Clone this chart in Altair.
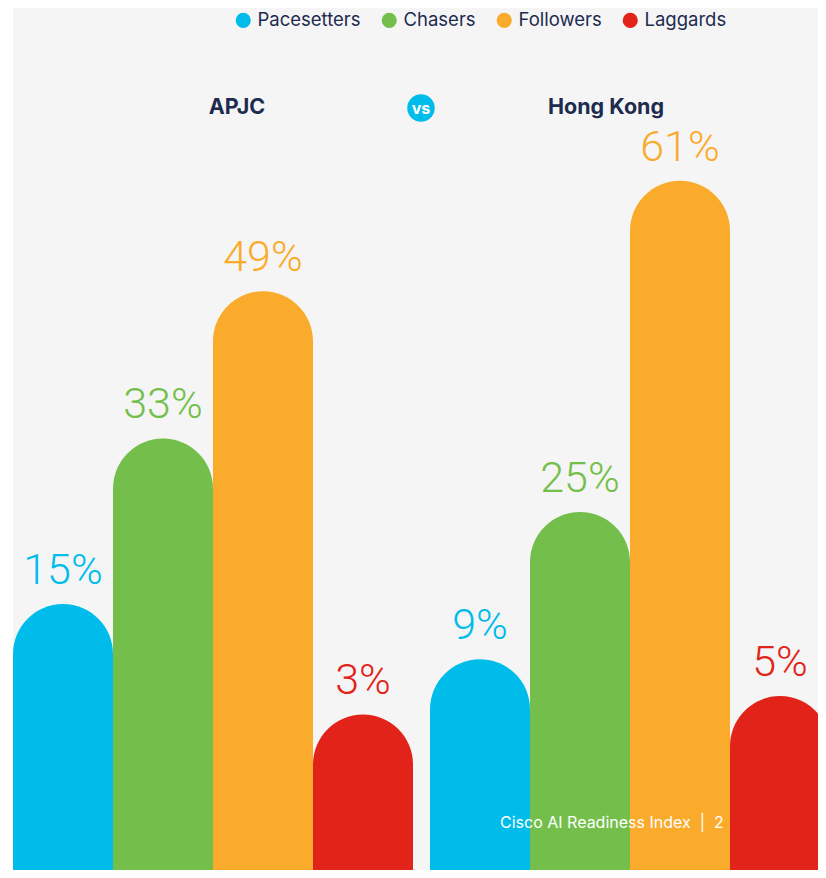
import altair as alt
import pandas as pd

categories = ["Pacesetters", "Chasers", "Followers", "Laggards"]
regions = ["APJC", "Hong Kong"]
apjc_values = [15, 33, 49, 3]
hong_kong_values = [9, 25, 61, 5]
palette = ["#00bceb", "#74bf4b", "#fbab2c", "#e2231a"]
footer_text = ["Cisco AI Readiness Index\u00a0\u00a0|\u00a0\u00a02"]
vs_text = ["vs"]

NAVY = "#1d2b4f"
W, H = 805, 862
GROUP_GAP = 0.17

rows = []
for g, (region, vals) in enumerate(zip(regions, [apjc_values, hong_kong_values])):
    for i, (cat, v) in enumerate(zip(categories, vals)):
        rows.append({"region": region, "category": cat, "value": v,
                     "slot": g * (len(categories) + GROUP_GAP) + i,
                     "label": f"{v}%"})
df = pd.DataFrame(rows)

x_scale = alt.Scale(domain=[0, 8.05], nice=False, zero=False)
y_scale = alt.Scale(domain=[-13.91, 79.78], nice=False, zero=False)
color_scale = alt.Scale(domain=categories, range=palette)

base = alt.Chart(df).transform_calculate(
    slot_end="datum.slot + 1", mid="datum.slot + 0.5"
)

bars = base.mark_bar(cornerRadiusTopLeft=50, cornerRadiusTopRight=50, clip=True).encode(
    x=alt.X("slot:Q", scale=x_scale, axis=None),
    x2="slot_end:Q",
    y=alt.Y("value:Q", scale=y_scale, axis=None),
    y2=alt.value(H),
    color=alt.Color(
        "category:N", scale=color_scale,
        legend=alt.Legend(
            title=None, orient="none", legendX=221, legendY=3,
            direction="horizontal", columns=4, symbolType="circle",
            symbolSize=230, symbolStrokeWidth=0, labelFont="Inter",
            labelFontSize=18.5, labelColor=NAVY, labelOffset=5,
            columnPadding=19, labelLimit=300,
        ),
    ),
)

labels = base.mark_text(font="Roboto", fontWeight=300, fontSize=43,
                        baseline="alphabetic", dy=-20).encode(
    x=alt.X("mid:Q", scale=x_scale, axis=None),
    y=alt.Y("value:Q", scale=y_scale, axis=None),
    text="label:N",
    color=alt.Color("category:N", scale=color_scale),
)

title_left = alt.Chart(pd.DataFrame({"t": [regions[0]]})).mark_text(
    font="Inter", fontWeight="bold", fontSize=21.5, color=NAVY, baseline="middle"
).encode(text="t:N", x=alt.value(224), y=alt.value(100))

title_right = alt.Chart(pd.DataFrame({"t": [regions[1]]})).mark_text(
    font="Inter", fontWeight="bold", fontSize=21.5, color=NAVY, baseline="middle"
).encode(text="t:N", x=alt.value(593), y=alt.value(100))

vs_circle = alt.Chart(pd.DataFrame({"t": vs_text})).mark_circle(
    size=755, color=palette[0], opacity=1
).encode(x=alt.value(408), y=alt.value(100))

vs_label = alt.Chart(pd.DataFrame({"t": vs_text})).mark_text(
    font="Inter", fontWeight="bold", fontSize=16, color="white", baseline="middle"
).encode(text="t:N", x=alt.value(408), y=alt.value(101))

footer = alt.Chart(pd.DataFrame({"t": footer_text})).mark_text(
    font="Inter", fontSize=16, color="white", align="left", baseline="alphabetic"
).encode(text="t:N", x=alt.value(487), y=alt.value(820))

chart = alt.layer(bars, labels, footer, title_left, title_right, vs_circle, vs_label).properties(
    width=W, height=H, background="white",
    padding={"left": 5, "top": 0, "right": 0, "bottom": 0},
).configure_view(fill="#f5f5f5", stroke=None)

chart.save("out.html", embed_options={"renderer": "svg", "actions": False})
